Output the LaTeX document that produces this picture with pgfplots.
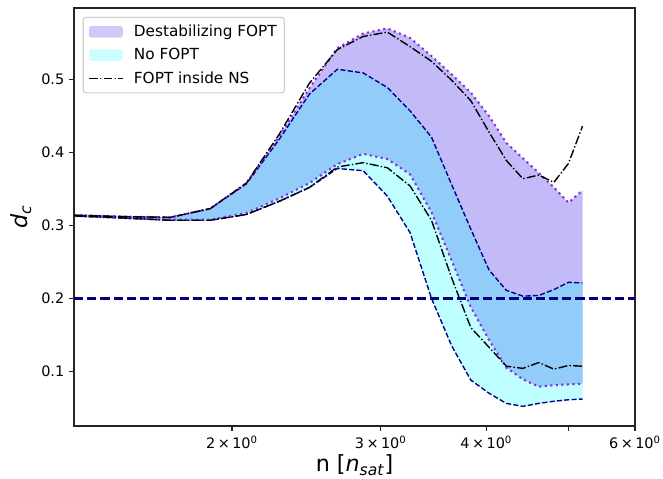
\documentclass[border=0pt]{standalone}
\usepackage{fontspec}
\setmainfont{DejaVu Sans}
\usepackage{pgfplots}
\usepackage{pgfplotstable}
\pgfplotsset{compat=1.18}
\usepgfplotslibrary{fillbetween}
\definecolor{purpfill}{RGB}{123,104,238}
\definecolor{cyanfill}{RGB}{0,255,255}
\definecolor{dotpurple}{RGB}{138,43,226}
\definecolor{navyc}{RGB}{0,0,139}
\definecolor{hnavy}{RGB}{0,0,128}
\definecolor{legframe}{RGB}{204,204,204}
\definecolor{spine}{RGB}{38,38,38}
\pgfplotsset{
  patchlegend/.style={legend image code/.code={\fill[##1] (0pt,-4.2pt) rectangle (24.5pt,4.2pt);}},
  linelegend/.style={legend image code/.code={\draw[##1] (0pt,0pt) -- (24.5pt,0pt);}},
}

\pgfplotstableread{
x      A     B     C     D     E     F
1.300  0.314 0.314 0.313 0.313 0.314 0.313
1.495  0.312 0.312 0.310 0.310 0.312 0.310
1.690  0.311 0.311 0.308 0.307 0.311 0.307
1.885  0.323 0.323 0.308 0.307 0.323 0.307
2.080  0.358 0.357 0.317 0.315 0.358 0.315
2.275  0.422 0.418 0.337 0.333 0.425 0.333
2.470  0.488 0.480 0.358 0.352 0.495 0.352
2.665  0.543 0.514 0.384 0.378 0.541 0.380
2.860  0.563 0.509 0.398 0.375 0.559 0.386
3.055  0.570 0.489 0.391 0.340 0.565 0.379
3.250  0.557 0.457 0.370 0.290 0.545 0.354
3.445  0.532 0.421 0.318 0.200 0.525 0.307
3.640  0.507 0.356 0.252 0.135 0.499 0.228
3.835  0.482 0.295 0.188 0.088 0.471 0.160
4.030  0.450 0.239 0.143 0.070 0.428 0.133
4.225  0.413 0.211 0.105 0.056 0.389 0.107
4.420  0.392 0.203 0.089 0.052 0.364 0.104
4.615  0.372 0.204 0.079 0.056 0.369 0.112
4.810  0.352 0.212 0.081 0.059 0.359 0.103
5.005  0.331 0.222 0.082 0.061 0.385 0.108
5.200  0.348 0.221 0.083 0.062 0.436 0.107
}\data

\begin{document}
\begin{tikzpicture}
\begin{axis}[
  scale only axis, width=403.9pt, height=300.96pt,
  xmode=log, xmin=1.3, xmax=6, ymin=0.025, ymax=0.598,
  xtick={2,3,4,5,6},
  xticklabels={2\,×\,10\textsuperscript{0},3\,×\,10\textsuperscript{0},4\,×\,10\textsuperscript{0},,6\,×\,10\textsuperscript{0}},
  minor tick num=0,
  ytick={0.1,0.2,0.3,0.4,0.5},
  yticklabels={0.1,0.2,0.3,0.4,0.5},
  tick pos=left, tick align=outside, major tick length=3.5pt,
  tick style={spine, line width=0.8pt},
  axis line style={spine, line width=0.8pt},
  ticklabel style={font=\fontsize{10.4}{12}\selectfont},
  xlabel={n [\textit{n}\textsubscript{\textit{sat}}]},
  ylabel={\textit{d}\textsubscript{\textit{c}}},
  label style={font=\fontsize{16}{19}\selectfont},
  x label style={at={(axis description cs:0.5,-0.109)}, anchor=base},
  y label style={at={(axis description cs:-0.0945,0.5)}, anchor=center},
  legend cell align=left,
  legend style={at={(axis description cs:0.0155,0.979)}, anchor=north west,
    font=\fontsize{11}{13}\selectfont, draw=legframe, line width=0.8pt,
    rounded corners=2pt, fill=white, fill opacity=0.8, text opacity=1,
    inner xsep=3.5pt, inner ysep=3.5pt, row sep=3pt,
    nodes={inner sep=2pt},
    /tikz/every odd column/.append style={column sep=5.5pt}},
]
\addplot[name path=A, draw=none, forget plot] table[x=x,y=A]{\data};
\addplot[name path=B, draw=none, forget plot] table[x=x,y=B]{\data};
\addplot[name path=C, draw=none, forget plot] table[x=x,y=C]{\data};
\addplot[name path=D, draw=none, forget plot] table[x=x,y=D]{\data};
\addplot[fill=purpfill, fill opacity=0.45, draw=none, forget plot] fill between[of=A and C];
\addplot[fill=cyanfill, fill opacity=0.25, draw=none, forget plot] fill between[of=B and D];

\addplot[navyc, line width=1pt, dash pattern=on 3.7pt off 1.6pt, forget plot] table[x=x,y=B]{\data};
\addplot[navyc, line width=1pt, dash pattern=on 3.7pt off 1.6pt, forget plot] table[x=x,y=D]{\data};
\addplot[dotpurple, line width=1.5pt, dash pattern=on 1.5pt off 2.5pt, forget plot] table[x=x,y=A]{\data};
\addplot[dotpurple, line width=1.5pt, dash pattern=on 1.5pt off 2.5pt, forget plot] table[x=x,y=C]{\data};
\addplot[black, line width=1pt, dash pattern=on 6.4pt off 1.6pt on 1pt off 1.6pt, forget plot] table[x=x,y=E]{\data};
\addplot[black, line width=1pt, dash pattern=on 6.4pt off 1.6pt on 1pt off 1.6pt, forget plot] table[x=x,y=F]{\data};
\addplot[hnavy, line width=1.8pt, dash pattern=on 6.6pt off 2.9pt, forget plot] coordinates {(1.3,0.2) (6,0.2)};

\addlegendimage{patchlegend, fill=purpfill!45!white, draw=none}
\addlegendentry{Destabilizing FOPT}
\addlegendimage{patchlegend, fill=cyanfill!25!white, draw=none}
\addlegendentry{No FOPT}
\addlegendimage{linelegend, black, line width=1pt, dash pattern=on 6.4pt off 1.6pt on 1pt off 1.6pt}
\addlegendentry{FOPT inside NS}
\end{axis}
\pgfresetboundingbox
\path ([shift={(-53.28pt,-37.44pt)}]current axis.south west) rectangle ([shift={(20.16pt,5.76pt)}]current axis.north east);
\end{tikzpicture}
\end{document}
